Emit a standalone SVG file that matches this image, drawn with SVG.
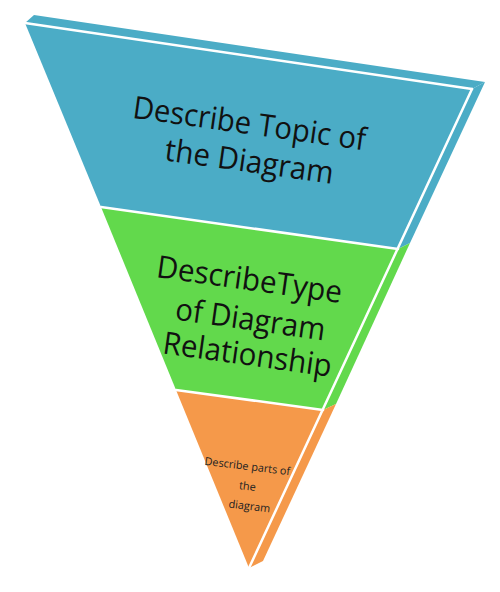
<svg xmlns="http://www.w3.org/2000/svg" width="500" height="592" viewBox="0 0 500 592">
<style>
.big{font-family:"Open Sans","Liberation Sans",sans-serif;font-size:31px;fill:#111;text-anchor:middle}
.small{font-family:"Open Sans","Liberation Sans",sans-serif;font-size:11px;fill:#222;text-anchor:middle}
.sep{stroke:#fff;stroke-width:2.5;fill:none;stroke-linecap:round}
.blue{fill:#4BACC6}.green{fill:#62D94C}.orange{fill:#F5994A}
</style>
<rect width="500" height="592" fill="#fff"/>
<g id="layer-topic">
<polygon class="blue" points="25,23 34,15 485,82 472,89"/>
<polygon class="blue" points="472,89 485,82 410,243 398,249"/>
<polygon class="blue" points="25,23 472,89 398,249 101,207"/>
<text class="big" x="248" y="134" textLength="235" lengthAdjust="spacingAndGlyphs" transform="rotate(8 248 134)">Describe Topic of</text>
<text class="big" x="248" y="172" textLength="170" lengthAdjust="spacingAndGlyphs" transform="rotate(8 248 172)">the Diagram</text>
</g>
<g id="layer-type">
<polygon class="green" points="398,249 410,243 336,404 323,410"/>
<polygon class="green" points="101,207 398,249 323,410 176,390"/>
<text class="big" x="248" y="290" textLength="187" lengthAdjust="spacingAndGlyphs" transform="rotate(8 248 290)">DescribeType</text>
<text class="big" x="249" y="330" textLength="151" lengthAdjust="spacingAndGlyphs" transform="rotate(8 249 330)">of Diagram</text>
<text class="big" x="246" y="365" textLength="170" lengthAdjust="spacingAndGlyphs" transform="rotate(8 246 365)">Relationship</text>
</g>
<g id="layer-parts">
<polygon class="orange" points="323,410 336,404 263,561 249,568"/>
<polygon class="orange" points="176,390 323,410 249,568"/>
<text class="small" x="247" y="470" textLength="86" lengthAdjust="spacingAndGlyphs" transform="rotate(7 247 470)">Describe parts of</text>
<text class="small" x="247" y="490" transform="rotate(7 247 490)">the</text>
<text class="small" x="249" y="510" textLength="42" lengthAdjust="spacingAndGlyphs" transform="rotate(7 249 510)">diagram</text>
</g>
<g id="connectors">
<line class="sep" x1="25" y1="23" x2="472" y2="89"/>
<line class="sep" x1="472" y1="89" x2="249" y2="568"/>
<line class="sep" x1="101" y1="207" x2="398" y2="249"/>
<line class="sep" x1="176" y1="390" x2="323" y2="410"/>
</g>
</svg>
